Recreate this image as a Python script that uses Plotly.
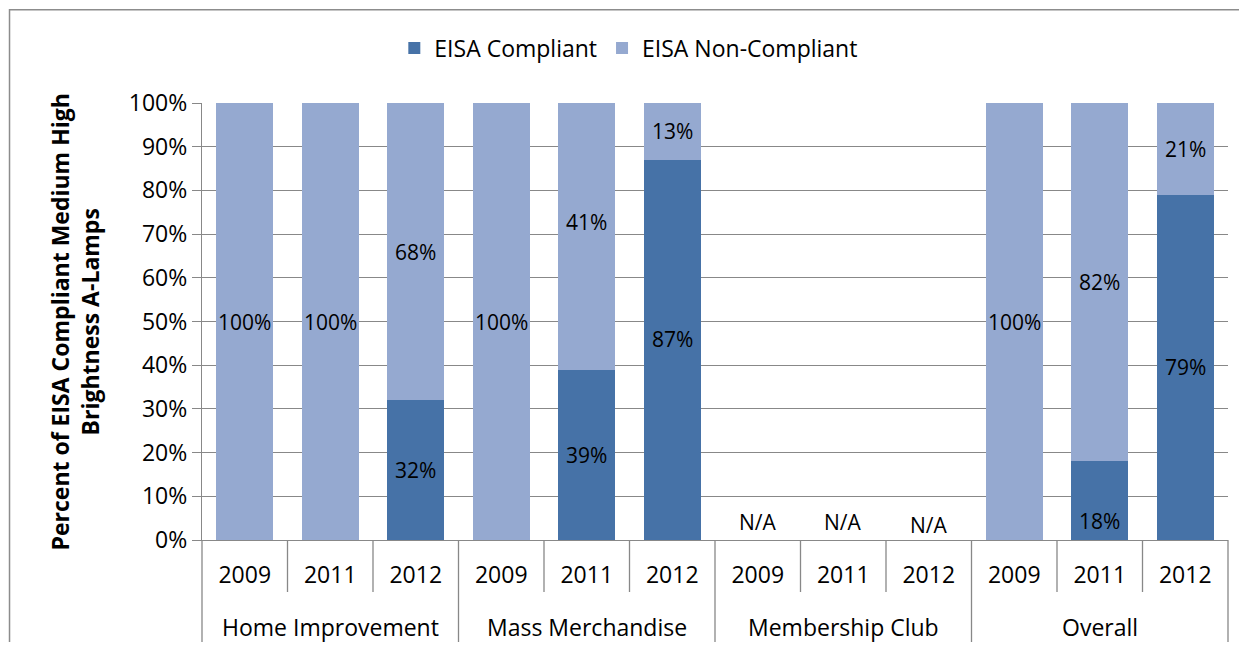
import plotly.graph_objects as go

# ---------------- data ----------------
groups = ["Home Improvement", "Mass Merchandise", "Membership Club", "Overall"]
years = ["2009", "2011", "2012"]
compliant = [0, 0, 32, 0, 39, 87, None, None, None, 0, 18, 79]
non_compliant = [100, 100, 68, 100, 61, 13, None, None, None, 100, 82, 21]
compliant_labels = ["", "", "32%", "", "39%", "87%", "", "", "", "", "18%", "79%"]
non_compliant_labels = ["100%", "100%", "68%", "100%", "41%", "13%", "", "", "", "100%", "82%", "21%"]
na_labels = ["", "", "", "", "", "", "N/A", "N/A", "N/A", "", "", ""]
y_ticks = [0, 10, 20, 30, 40, 50, 60, 70, 80, 90, 100]

# ---------------- style ----------------
C_DARK = "#4672A7"
C_LIGHT = "#95A9D0"
GRID = "#888888"
FONT = "Open Sans"
FS = 23        # axis / legend text
FS_LBL = 21    # data labels
# pixel nudges for labels that were moved by hand in the original
LABEL_SHIFT = {("c", 5): 11, ("c", 10): -20, ("n", 4): 14, ("na", 8): -3}

n = len(groups) * len(years)
xs = list(range(n))
year_text = [years[i % len(years)] for i in xs]

fig = go.Figure()
fig.add_trace(go.Bar(x=xs, y=compliant, name="EISA Compliant",
                     marker=dict(color=C_DARK, line=dict(width=0)), width=0.667))
fig.add_trace(go.Bar(x=xs, y=non_compliant, name="EISA Non-Compliant",
                     marker=dict(color=C_LIGHT, line=dict(width=0)), width=0.667))

lbl_font = dict(family=FONT, size=FS_LBL, color="black")
ann = []
for i in xs:
    c = compliant[i] or 0
    nc = non_compliant[i] or 0
    if compliant_labels[i]:
        ann.append(dict(x=i, y=c / 2, text=compliant_labels[i], showarrow=False,
                        xref="x", yref="y", font=lbl_font,
                        yshift=LABEL_SHIFT.get(("c", i), 0)))
    if non_compliant_labels[i]:
        ann.append(dict(x=i, y=c + nc / 2, text=non_compliant_labels[i], showarrow=False,
                        xref="x", yref="y", font=lbl_font,
                        yshift=LABEL_SHIFT.get(("n", i), 0)))
    if na_labels[i]:
        ann.append(dict(x=i, y=0, text=na_labels[i], showarrow=False, xref="x", yref="y",
                        yanchor="bottom", font=lbl_font,
                        yshift=2 + LABEL_SHIFT.get(("na", i), 0)))

# group labels
for g, name in enumerate(groups):
    mid = (g * len(years) + (g + 1) * len(years) - 1) / 2
    ann.append(dict(x=mid, y=-0.199, xref="x", yref="paper", text=name, showarrow=False,
                    yanchor="middle", font=dict(family=FONT, size=FS, color="black")))

# y-axis title
ann.append(dict(x=-0.1238, y=0.5, xref="paper", yref="paper", showarrow=False,
                textangle=-90, xanchor="center", yanchor="middle",
                text="<b>Percent of EISA Compliant Medium High<br>Brightness A-Lamps</b>",
                font=dict(family=FONT, size=FS, color="black")))

# separators under the category axis
shapes = []
for k in range(n + 1):
    long = (k % len(years) == 0)
    y1 = -0.2357 if long else -0.119
    if k == 0 or k == n:
        shapes.append(dict(type="line", xref="x domain", yref="paper", x0=k / n, x1=k / n,
                           y0=0, y1=y1, line=dict(color=GRID, width=1.3)))
    else:
        shapes.append(dict(type="line", xref="x", yref="paper", x0=k - 0.5, x1=k - 0.5,
                           y0=0, y1=y1, line=dict(color=GRID, width=1.3)))

# outer chart frame
shapes.append(dict(type="rect", xref="paper", yref="paper", x0=-0.1876, x1=1.08,
                   y0=-0.3, y1=1.2135, line=dict(color="#8C8C8C", width=1.5),
                   fillcolor="rgba(0,0,0,0)", layer="below"))

fig.update_layout(
    barmode="stack",
    width=1231, height=634,
    margin=dict(l=194, r=11, t=95, b=102),
    paper_bgcolor="white", plot_bgcolor="white",
    font=dict(family=FONT, size=FS, color="black"),
    showlegend=True,
    legend=dict(orientation="h", x=0.416, xanchor="center", y=1.126, yanchor="middle",
                font=dict(family=FONT, size=FS, color="black"), traceorder="normal",
                bgcolor="rgba(0,0,0,0)"),
    annotations=ann,
    shapes=shapes,
    xaxis=dict(range=[-0.5, n - 0.5], tickmode="array", tickvals=xs, ticktext=year_text,
               ticks="outside", ticklen=14, tickcolor="rgba(0,0,0,0)",
               showgrid=False, zeroline=False, showline=True, linecolor=GRID, linewidth=1.3,
               tickfont=dict(family=FONT, size=FS, color="black"), fixedrange=True),
    yaxis=dict(range=[0, 100], tickmode="array", tickvals=y_ticks,
               ticktext=[f"{v}%" for v in y_ticks],
               ticks="outside", ticklen=9, tickcolor=GRID, tickwidth=1.3,
               showgrid=True, gridcolor=GRID, gridwidth=1.3, zeroline=False,
               showline=True, linecolor=GRID, linewidth=1.3,
               tickfont=dict(family=FONT, size=FS, color="black")),
)

fig.write_html("out.html")
